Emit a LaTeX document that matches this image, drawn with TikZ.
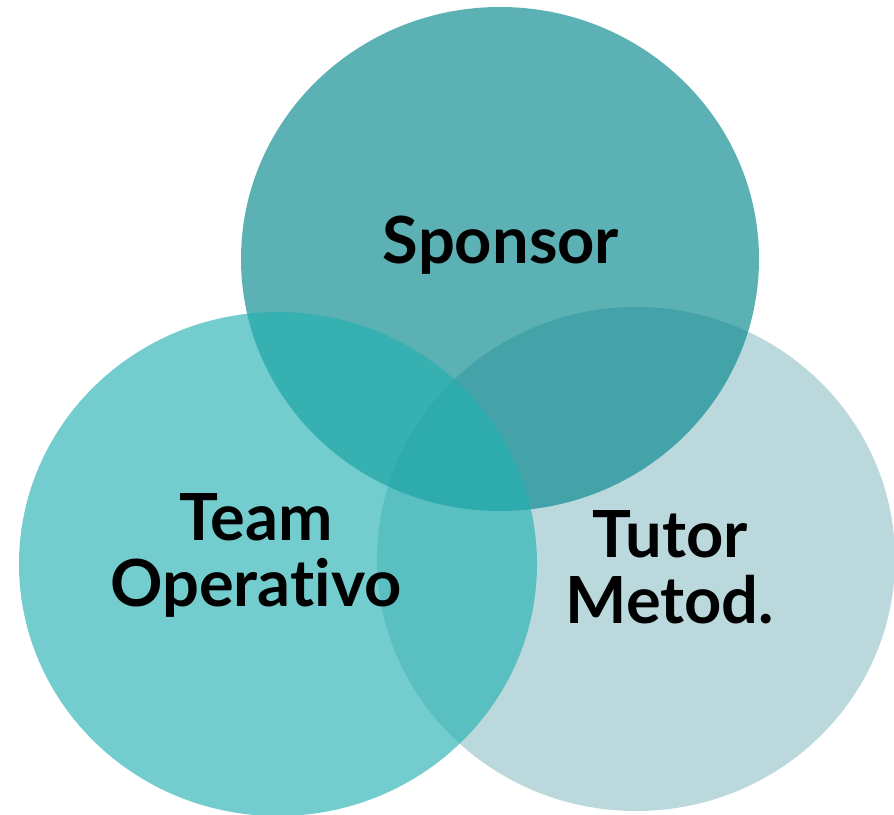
\documentclass[tikz,border=0pt]{standalone}
\usepackage{fontspec}
\setmainfont[Ligatures=NoCommon]{Lato}
\usepackage{xcolor}
\usetikzlibrary{positioning, shapes.geometric}
\definecolor{sponsorcol}{RGB}{0,133,139}
\definecolor{teamcol}{RGB}{34,176,177}
\definecolor{tutorcol}{RGB}{187,217,221}
\tikzset{
    area/.style={ellipse, draw=none, inner sep=0pt, minimum width=518pt, minimum height=504pt}, % the three sets
    label/.style={font=\fontsize{65}{66}\selectfont\bfseries, align=center, inner sep=0pt, text=black},
}

\begin{document}
\begin{tikzpicture}[x=1pt, y=-1pt]
        \useasboundingbox (0,0) rectangle (894,814);

        % Insiemi
        \node[area, fill=tutorcol] (tutor) at (636,559) {};
        \node[area, fill=sponsorcol, fill opacity=0.64] (sponsor) at (500,259) {};
        \node[area, fill=teamcol, fill opacity=0.63] (team) at (278,564) {};

        % Etichette
        \node[label, anchor=base] (sponsorlbl) at (501,263) {Sponsor};
        \node[label] (teamlbl) at (256,555) {Team\\Operativo};
        \node[label] (tutorlbl) at (670,567) {Tutor\\Metod.};
    \end{tikzpicture}
\end{document}
